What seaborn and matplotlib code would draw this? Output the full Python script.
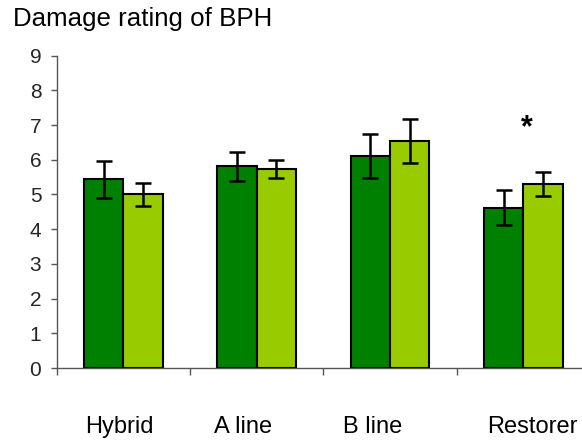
import matplotlib
matplotlib.use("Agg")
import matplotlib.pyplot as plt
import matplotlib.transforms as mtransforms
import seaborn as sns
import pandas as pd
import numpy as np

categories = ["Hybrid", "A line", "B line", "Restorer"]
series_names = ["Series 1", "Series 2"]
series1_values = [5.44, 5.81, 6.11, 4.62]
series1_errors = [0.53, 0.41, 0.63, 0.51]
series2_values = [5.00, 5.74, 6.54, 5.31]
series2_errors = [0.32, 0.26, 0.63, 0.35]
label_offsets = [-0.03, -0.10, -0.13, 0.07]
yticks = list(range(0, 10))
title = "Damage rating of BPH"
colors = ["#008000", "#99CC00"]

df = pd.DataFrame({
    "category": categories * 2,
    "series": [series_names[0]] * 4 + [series_names[1]] * 4,
    "value": series1_values + series2_values,
    "err": series1_errors + series2_errors,
})

sns.set_theme(style="white")
plt.rcParams["font.family"] = ["Liberation Sans", "DejaVu Sans"]

fig = plt.figure(figsize=(5.82, 4.42), dpi=100)
ax = fig.add_axes([0.0973, 0.1674, 0.9164, 0.7066])

sns.barplot(data=df, x="category", y="value", hue="series", order=categories,
            hue_order=series_names, palette=colors, errorbar=None, width=0.59,
            gap=0, edgecolor="black", linewidth=1.5, saturation=1, ax=ax,
            legend=False)

# error bars from bar patches
patches = [p for p in ax.patches if p.get_height() > 0]
patches = sorted(patches, key=lambda p: p.get_x())
vals = []
for i in range(len(categories)):
    vals.append((series1_values[i], series1_errors[i]))
    vals.append((series2_values[i], series2_errors[i]))
for p, (v, e) in zip(patches, vals):
    xc = p.get_x() + p.get_width() / 2
    ax.errorbar(xc, v, yerr=e, fmt="none", ecolor="black", elinewidth=1.8,
                capsize=5.5, capthick=1.8, zorder=5)

ax.set_xlim(-0.5, 3.5)
ax.set_ylim(0, 9)
ax.set_yticks(yticks)
ax.set_yticklabels([str(t) for t in yticks], fontsize=15)
ax.set_xticks([i - 0.5 for i in range(len(categories) + 1)])
ax.set_xticklabels([])
ax.set_xlabel("")
ax.set_ylabel("")
ax.tick_params(axis="y", which="major", direction="out", length=4, width=1,
               color="#555555", left=True, pad=7)
ax.tick_params(axis="x", which="major", direction="out", length=5, width=1,
               color="#555555", bottom=True)
for s in ["top", "right"]:
    ax.spines[s].set_visible(False)
for s in ["left", "bottom"]:
    ax.spines[s].set_color("#555555")
    ax.spines[s].set_linewidth(1)

trans = mtransforms.blended_transform_factory(ax.transData, ax.transAxes)
for i, c in enumerate(categories):
    ax.text(i + label_offsets[i], -0.19, c, transform=trans, ha="center",
            va="center", fontsize=17, color="black")

ax.text(3.03, 6.92, "*", ha="center", va="center", fontsize=22,
        fontweight="bold", color="black")

fig.text(13 / 582, 1 - 26 / 442, title, ha="left", va="baseline",
         fontsize=18.6, color="black")

fig.savefig("out.png", dpi=100)
